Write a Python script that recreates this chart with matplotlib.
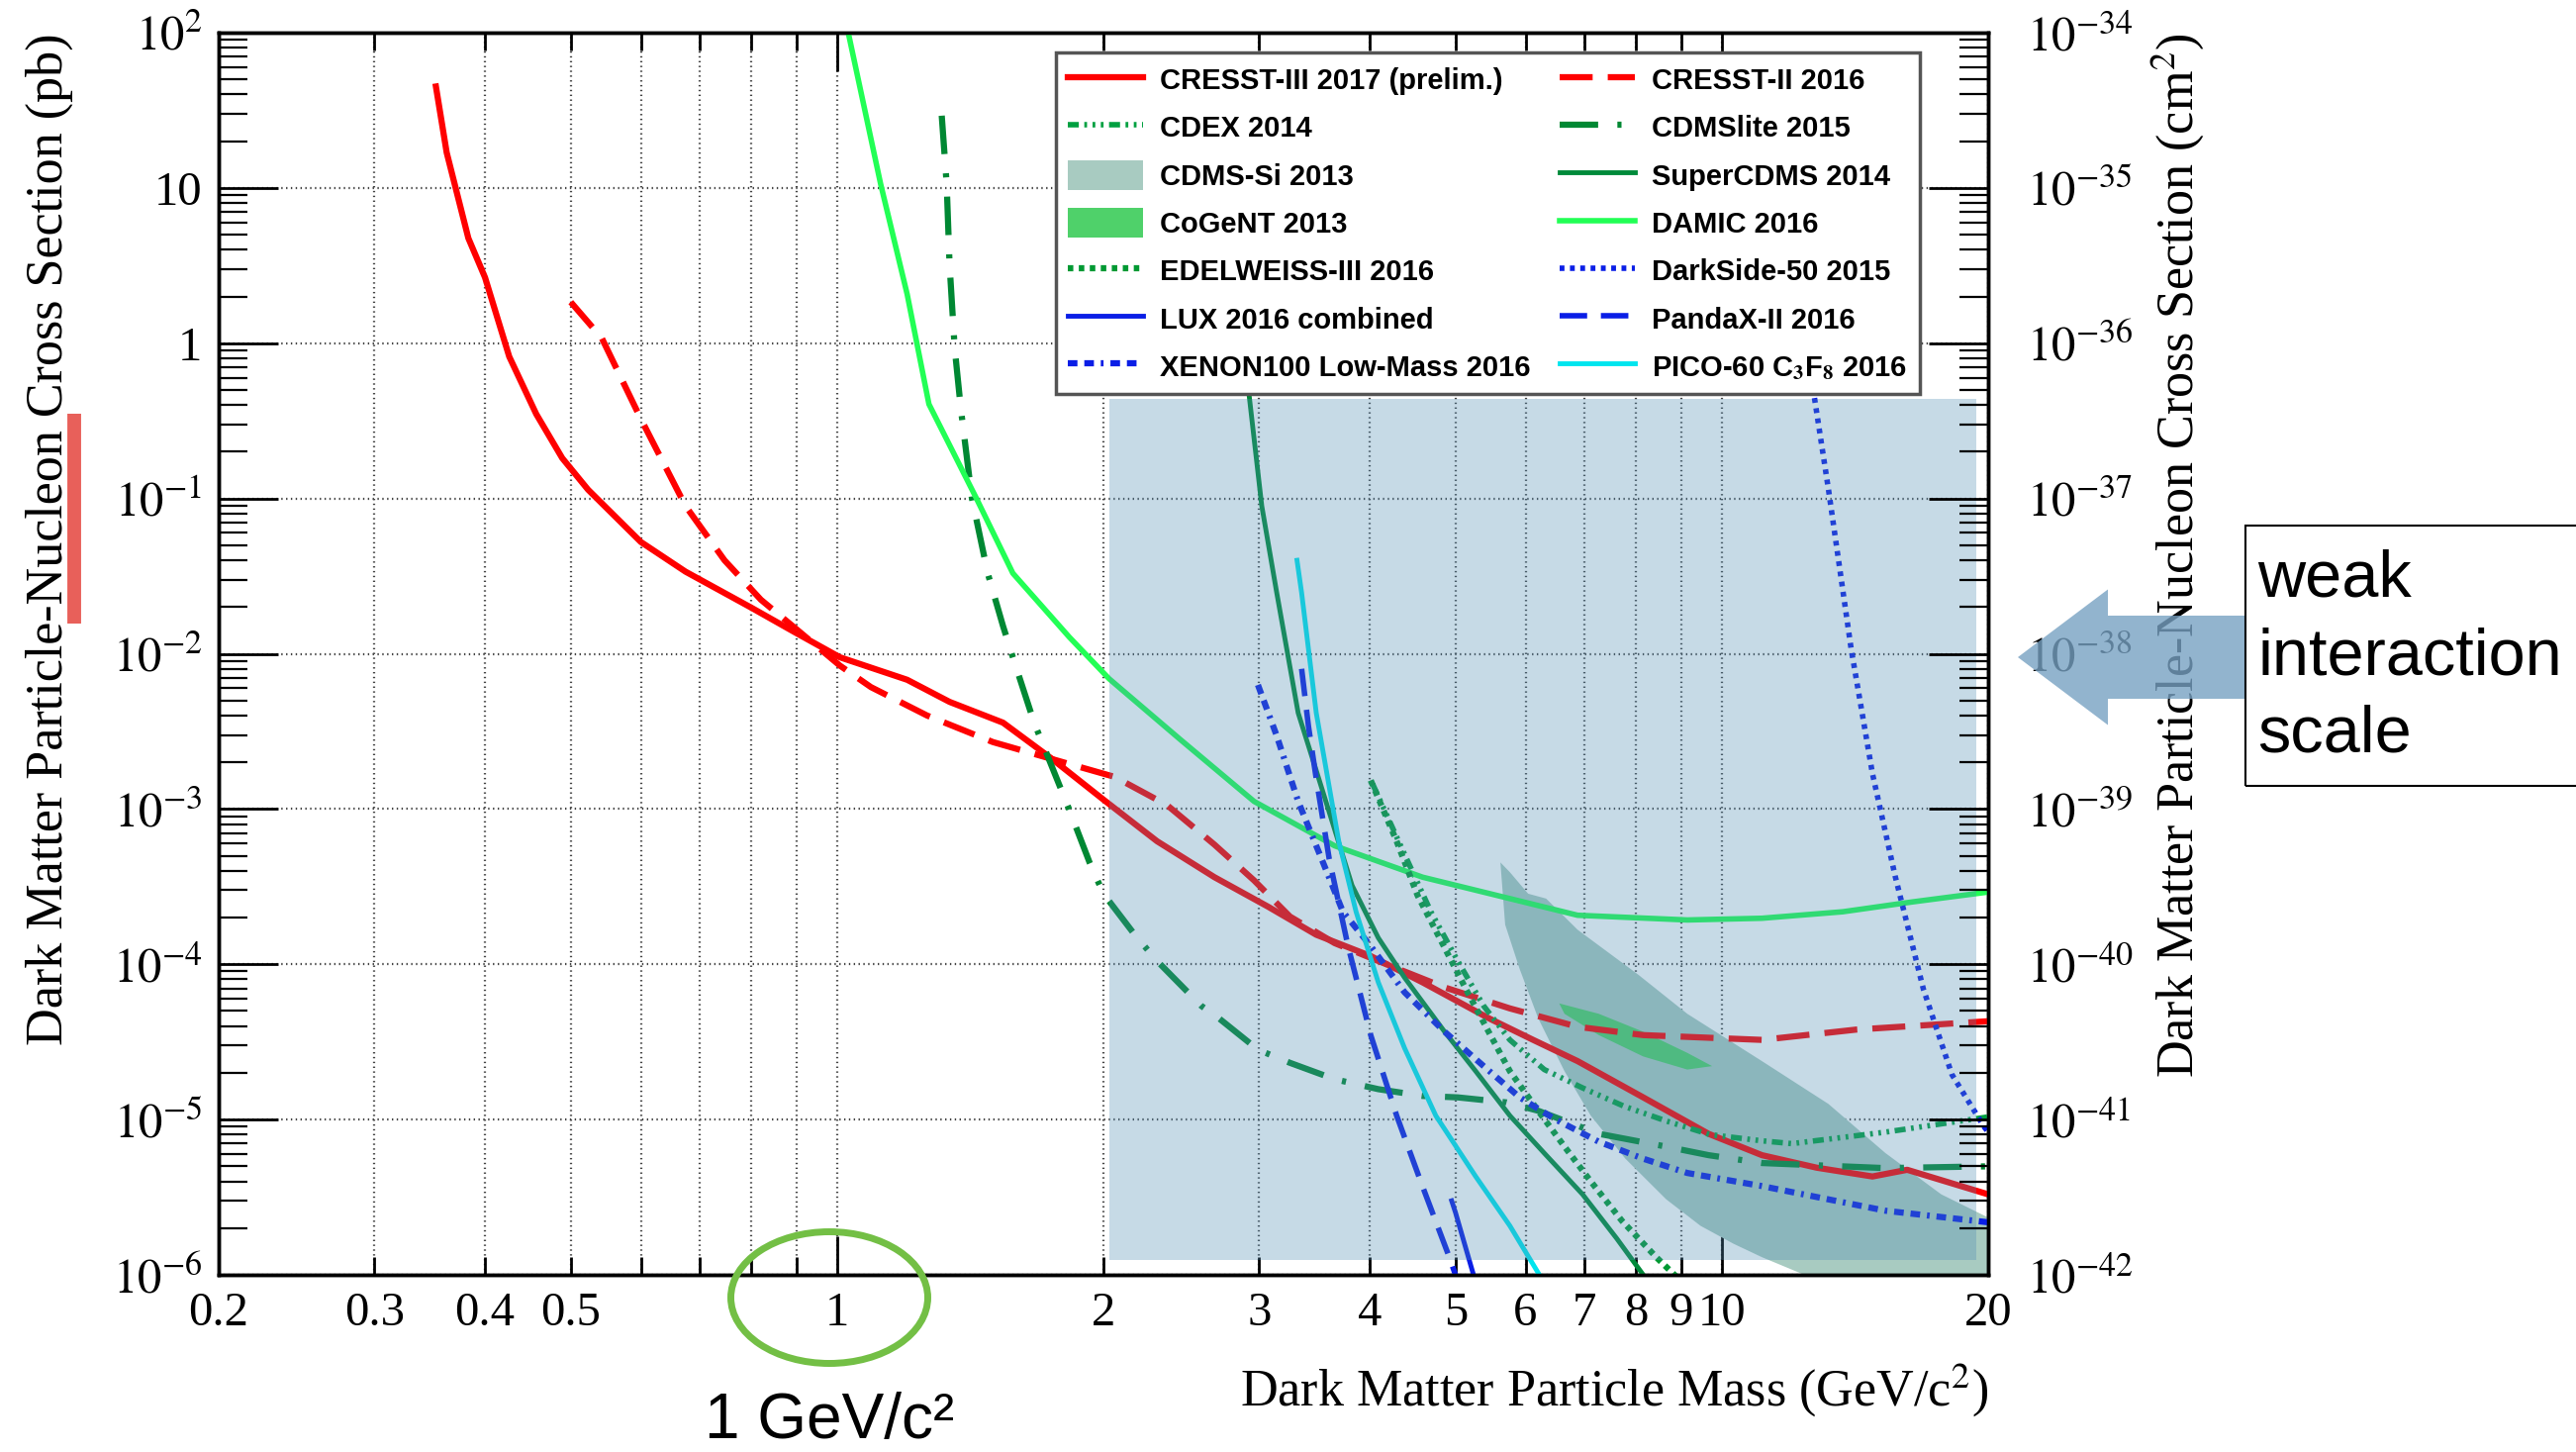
import numpy as np
import matplotlib
matplotlib.use('Agg')
import matplotlib.pyplot as plt
from matplotlib.patches import Rectangle, Ellipse, Patch, FancyArrow
from matplotlib.lines import Line2D
from matplotlib.transforms import IdentityTransform
from matplotlib.ticker import FixedLocator, LogLocator, FuncFormatter, NullFormatter

plt.rcParams['font.family'] = ['Liberation Serif', 'DejaVu Serif']
plt.rcParams['mathtext.fontset'] = 'stix'
plt.rcParams['lines.scale_dashes'] = False

# ---- exclusion limits: mass (GeV/c^2) vs cross section (pb) ----
cresst3_mass = [0.352, 0.362, 0.383, 0.40, 0.426, 0.457, 0.489, 0.523, 0.60, 0.674, 0.80, 0.897,
                1.007, 1.2, 1.34, 1.54, 1.75, 2.0, 2.30, 2.67, 3.07, 3.48, 4.01, 4.59, 5.45, 6.12,
                6.87, 8.15, 9.66, 11.1, 12.8, 14.8, 16.2, 20]
cresst3_xs = [45, 16.9, 4.75, 2.65, 0.82, 0.35, 0.182, 0.114, 0.0525, 0.0338, 0.0198, 0.0137,
              0.0095, 0.0068, 0.0049, 0.0036, 0.0021, 0.00115, 6.2e-4, 3.64e-4, 2.35e-4, 1.55e-4,
              1.13e-4, 7.65e-5, 4.5e-5, 3.26e-5, 2.38e-5, 1.39e-5, 8.1e-6, 5.9e-6, 4.9e-6, 4.3e-6,
              4.75e-6, 3.3e-6]

cresst2_mass = [0.50, 0.542, 0.60, 0.674, 0.746, 0.82, 0.909, 1.007, 1.092, 1.264, 1.50, 1.70, 1.83,
                2.06, 2.36, 2.67, 2.96, 3.25, 3.65, 4.09, 4.86, 5.76, 6.87, 8.15, 11.1, 14.2, 20]
cresst2_xs = [1.84, 1.08, 0.326, 0.0895, 0.040, 0.0223, 0.0137, 0.0084, 0.0061, 0.0040, 0.0027,
              0.0022, 0.00195, 0.00161, 0.00106, 5.9e-4, 3.47e-4, 2.03e-4, 1.37e-4, 1.05e-4, 7.1e-5,
              5.2e-5, 3.96e-5, 3.5e-5, 3.26e-5, 3.8e-5, 4.3e-5]

cdex_mass = [4.03, 4.38, 4.69, 5.03, 5.38, 5.76, 6.3, 6.96, 7.75, 8.65, 9.7, 11.1, 12.0, 15.3, 20]
cdex_xs = [1.45e-3, 5.1e-4, 2.18e-4, 1.05e-4, 5.4e-5, 3.26e-5, 2.1e-5, 1.6e-5, 1.22e-5, 9.8e-6,
           8.0e-6, 7.3e-6, 7.0e-6, 8.3e-6, 1.04e-5]

cdmslite_mass = [1.313, 1.33, 1.34, 1.358, 1.38, 1.42, 1.48, 1.54, 1.58, 1.67, 1.83, 1.93, 2.0, 2.17,
                 2.30, 2.58, 2.70, 2.99, 3.25, 3.65, 4.09, 4.59, 5.03, 5.71, 6.20, 7.26, 8.65, 9.66,
                 11.1, 15.3, 20]
cdmslite_xs = [29.2, 10.6, 3.22, 0.93, 0.378, 0.101, 0.033, 0.0151, 0.0095, 0.0036, 9.9e-4, 4.5e-4,
               2.85e-4, 1.55e-4, 1.05e-4, 5.4e-5, 4.5e-5, 2.82e-5, 2.32e-5, 1.82e-5, 1.57e-5,
               1.42e-5, 1.39e-5, 1.29e-5, 1.14e-5, 8.1e-6, 6.7e-6, 5.9e-6, 5.25e-6, 4.87e-6, 5.0e-6]

supercdms_mass = [2.86, 2.92, 3.02, 3.14, 3.32, 3.48, 3.82, 4.09, 4.38, 4.86, 5.27, 5.76, 6.33, 6.96,
                  7.61, 8.15, 8.5]
supercdms_xs = [2.0, 0.48, 0.0895, 0.0247, 4.16e-3, 1.77e-3, 3.22e-4, 1.48e-4, 8.2e-5, 3.68e-5,
                2.05e-5, 1.06e-5, 5.9e-6, 3.3e-6, 1.71e-6, 1.0e-6, 7e-7]

damic_mass = [1.02, 1.03, 1.12, 1.20, 1.27, 1.436, 1.58, 1.83, 2.03, 2.44, 2.96, 3.65, 4.59, 5.76,
              6.87, 9.14, 11.1, 13.7, 16.4, 20]
damic_xs = [130, 98.6, 10.6, 2.07, 0.405, 0.101, 0.033, 0.0128, 6.9e-3, 2.82e-3, 1.12e-3, 5.8e-4,
            3.64e-4, 2.65e-4, 2.07e-4, 1.93e-4, 1.98e-4, 2.18e-4, 2.52e-4, 2.92e-4]

edelweiss_mass = [4.01, 4.29, 4.53, 4.86, 5.16, 5.45, 5.76, 6.20, 6.64, 7.11, 7.71, 8.43, 8.84, 9.2]
edelweiss_xs = [1.53e-3, 6.2e-4, 2.78e-4, 1.28e-4, 6.6e-5, 3.68e-5, 2.05e-5, 1.14e-5, 6.7e-6, 4.0e-6,
                2.23e-6, 1.3e-6, 1.0e-6, 8e-7]

darkside_mass = [12.5, 12.7, 13.2, 14.0, 14.8, 15.7, 16.9, 18.2, 19.8, 20.5]
darkside_xs = [1.5, 0.48, 0.114, 0.0108, 1.69e-3, 3.7e-4, 6.9e-5, 1.95e-5, 8.95e-6, 7e-6]

lux_mass = [4.95, 5.0, 5.24, 5.4]
lux_xs = [3.0e-6, 2.52e-6, 1.0e-6, 6e-7]

pandax_mass = [3.35, 3.41, 3.48, 3.60, 3.78, 4.01, 4.29, 4.59, 4.92, 5.0]
pandax_xs = [8.0e-3, 3.42e-3, 1.57e-3, 4.75e-4, 1.31e-4, 3.5e-5, 1.06e-5, 3.7e-6, 1.3e-6, 1.0e-6]

xenon_mass = [2.99, 3.14, 3.32, 3.53, 3.73, 4.01, 4.38, 4.86, 5.38, 5.91, 6.47, 7.26, 8.15, 9.14,
              11.1, 15.3, 20]
xenon_xs = [6.3e-3, 2.96e-3, 1.12e-3, 4.75e-4, 2.18e-4, 1.31e-4, 6.6e-5, 3.68e-5, 2.21e-5, 1.39e-5,
            1.01e-5, 7.2e-6, 5.6e-6, 4.53e-6, 3.73e-6, 2.59e-6, 2.18e-6]

pico_mass = [3.31, 3.35, 3.48, 3.69, 3.86, 4.09, 4.38, 4.75, 5.27, 5.76, 6.22]
pico_xs = [0.040, 0.0247, 4.16e-3, 6.2e-4, 2.18e-4, 7.65e-5, 2.88e-5, 1.06e-5, 4.3e-6, 2.07e-6, 1.0e-6]

# allowed regions (closed contours)
cdmssi_mass = [5.62, 5.76, 6.04, 6.33, 6.87, 8.04, 9.14, 11.1, 13.2, 15.3, 17.7, 20.0, 20.5, 20.5,
               13.5, 12.4, 11.1, 10.3, 9.46, 8.65, 7.78, 7.11, 6.64, 6.20, 5.91, 5.69]
cdmssi_xs = [4.53e-4, 3.92e-4, 2.85e-4, 2.65e-4, 1.67e-4, 8.6e-5, 4.8e-5, 2.38e-5, 1.26e-5, 6.1e-6,
             3.3e-6, 2.34e-6, 2.2e-6, 6e-7, 6e-7, 1.0e-6, 1.3e-6, 1.59e-6, 2.07e-6, 3.07e-6, 5.6e-6,
             1.06e-5, 2.05e-5, 4.5e-5, 9.3e-5, 1.8e-4]

cogent_mass = [6.55, 7.26, 8.15, 9.14, 9.75, 9.14, 8.15, 7.26, 6.64]
cogent_xs = [5.6e-5, 4.8e-5, 3.68e-5, 2.69e-5, 2.21e-5, 2.1e-5, 2.55e-5, 3.5e-5, 4.8e-5]

# highlighted parameter region (mass range, cross-section range)
box_mass = [2.03, 19.4]
box_xs = [1.25e-6, 0.436]

x_major = [1, 10]
x_minor = [0.2, 0.3, 0.4, 0.5, 0.6, 0.7, 0.8, 0.9, 2, 3, 4, 5, 6, 7, 8, 9, 20]
x_unlabeled = [0.6, 0.7, 0.8, 0.9]

fig = plt.figure(figsize=(26.03, 14.67), dpi=100)
ax = fig.add_axes([0.0849, 0.1220, 0.6869, 0.8555])
ax.set_xscale('log')
ax.set_yscale('log')
ax.set_xlim(0.2, 20)
ax.set_ylim(1e-6, 1e2)

RED = '#ff0000'
BLUE = '#0a1ee6'

ax.fill(cdmssi_mass, cdmssi_xs, color='#a8cbc1', lw=0, zorder=1.5)
ax.fill(cogent_mass, cogent_xs, color='#4fd16a', lw=0, zorder=1.6)

h_cresst3, = ax.plot(cresst3_mass, cresst3_xs, color=RED, lw=4.5, zorder=3)
h_cresst2, = ax.plot(cresst2_mass, cresst2_xs, color=RED, lw=4.5, dashes=(24, 11), zorder=3)
h_cdex, = ax.plot(cdex_mass, cdex_xs, color='#00a040', lw=4,
                  dashes=(8, 4, 2, 4, 2, 4, 2, 4), zorder=3)
h_cdmslite, = ax.plot(cdmslite_mass, cdmslite_xs, color='#008833', lw=4.5,
                      dashes=(28, 14, 3, 14), zorder=3)
h_supercdms, = ax.plot(supercdms_mass, supercdms_xs, color='#008a3a', lw=3.5, zorder=3)
h_damic, = ax.plot(damic_mass, damic_xs, color='#22ff55', lw=4, zorder=3)
h_edelweiss, = ax.plot(edelweiss_mass, edelweiss_xs, color='#009933', lw=4.5, dashes=(4, 4), zorder=3)
h_darkside, = ax.plot(darkside_mass, darkside_xs, color=BLUE, lw=4, dashes=(3.5, 4), zorder=3)
h_lux, = ax.plot(lux_mass, lux_xs, color=BLUE, lw=3.5, zorder=3)
h_pandax, = ax.plot(pandax_mass, pandax_xs, color=BLUE, lw=4, dashes=(20, 10), zorder=3)
h_xenon, = ax.plot(xenon_mass, xenon_xs, color=BLUE, lw=4.5, dashes=(7, 5, 7, 5, 2, 5), zorder=3)
h_pico, = ax.plot(pico_mass, pico_xs, color='#00e5ee', lw=3.5, zorder=3)

# translucent highlight
ax.add_patch(Rectangle((box_mass[0], box_xs[0]), box_mass[1] - box_mass[0], box_xs[1] - box_xs[0],
                       facecolor='#4f8cb3', alpha=0.32, edgecolor='none', zorder=4))

# axes styling
for s in ax.spines.values():
    s.set_linewidth(2.5)
ax.xaxis.set_major_locator(FixedLocator(x_major))
ax.xaxis.set_minor_locator(FixedLocator(x_minor))
ax.xaxis.set_major_formatter(FuncFormatter(lambda v, p: '%g' % v))
ax.xaxis.set_minor_formatter(FuncFormatter(
    lambda v, p: '' if round(v, 3) in x_unlabeled else '%g' % v))


def dec_label(v, p):
    e = int(round(np.log10(v)))
    if e == 0:
        return '1'
    if e == 1:
        return '10'
    return r'$10^{%d}$' % e


ax.yaxis.set_major_locator(LogLocator(base=10, numticks=20))
ax.yaxis.set_minor_locator(LogLocator(base=10, subs=np.arange(2, 10), numticks=20))
ax.yaxis.set_major_formatter(FuncFormatter(dec_label))
ax.yaxis.set_minor_formatter(NullFormatter())

ax.tick_params(axis='x', which='major', direction='in', length=28, width=2, top=True, bottom=True,
               labelsize=35, pad=12)
ax.tick_params(axis='x', which='minor', direction='in', length=13, width=2, top=True, bottom=True,
               labelsize=35, pad=12)
ax.tick_params(axis='y', which='major', direction='in', length=43, width=2, left=True, right=False,
               labelsize=35, pad=12)
ax.tick_params(axis='y', which='minor', direction='in', length=21, width=1.6, left=True, right=False)

ax.grid(True, which='both', axis='x', color='#444444', ls=(0, (1, 2.5)), lw=1.6, zorder=1)
ax.grid(True, which='major', axis='y', color='#444444', ls=(0, (1, 2.5)), lw=1.6, zorder=1)
ax.set_axisbelow(True)

ax.set_xlabel('Dark Matter Particle Mass (GeV/c$^2$)', fontsize=37.5, loc='right')
ax.xaxis.set_label_coords(1.0, -0.070)
ax.set_ylabel('Dark Matter Particle-Nucleon Cross Section (pb)', fontsize=37.5, loc='top')
ax.yaxis.set_label_coords(-0.082, 1.0)

ax2 = ax.twinx()
ax2.set_yscale('log')
ax2.set_ylim(1e-42, 1e-34)
ax2.yaxis.set_major_locator(LogLocator(base=10, numticks=20))
ax2.yaxis.set_minor_locator(LogLocator(base=10, subs=np.arange(2, 10), numticks=20))
ax2.yaxis.set_major_formatter(FuncFormatter(lambda v, p: r'$10^{%d}$' % int(round(np.log10(v)))))
ax2.yaxis.set_minor_formatter(NullFormatter())
ax2.tick_params(axis='y', which='major', direction='in', length=43, width=2, labelsize=35, pad=28)
ax2.tick_params(axis='y', which='minor', direction='in', length=21, width=1.6)
ax2.set_ylabel(r'Dark Matter Particle-Nucleon Cross Section (cm$^2$)', fontsize=37.5, loc='top')
ax2.yaxis.set_label_coords(1.091, 1.0)
for s in ax2.spines.values():
    s.set_linewidth(2.5)

# legend
h_cdmssi = Patch(facecolor='#a8cbc1', edgecolor='none')
h_cogent = Patch(facecolor='#4fd16a', edgecolor='none')
handles = [h_cresst3, h_cdex, h_cdmssi, h_cogent, h_edelweiss, h_lux, h_xenon,
           h_cresst2, h_cdmslite, h_supercdms, h_damic, h_darkside, h_pandax, h_pico]
labels = ['CRESST-III 2017 (prelim.)', 'CDEX 2014', 'CDMS-Si 2013', 'CoGeNT 2013',
          'EDELWEISS-III 2016', 'LUX 2016 combined', 'XENON100 Low-Mass 2016',
          'CRESST-II 2016', 'CDMSlite 2015', 'SuperCDMS 2014', 'DAMIC 2016',
          'DarkSide-50 2015', 'PandaX-II 2016', r'PICO-60 C$_\mathbf{3}$F$_\mathbf{8}$ 2016']
leg = ax.legend(handles, labels, ncol=2, loc='upper left', bbox_to_anchor=(0.473, 0.984),
                prop={'family': ['Liberation Sans Narrow', 'Liberation Sans'], 'weight': 'bold',
                      'size': 21},
                frameon=True, fancybox=False, edgecolor='#555555', framealpha=1,
                handlelength=2.6, handleheight=1.2, handletextpad=0.6, columnspacing=1.0,
                labelspacing=0.6, borderpad=0.42, borderaxespad=0)
leg.get_frame().set_linewidth(2.5)
leg.set_zorder(10)

# annotations (figure pixel coordinates)
H = 1467
fig.add_artist(Line2D([74.5, 74.5], [H - 418, H - 630], transform=IdentityTransform(),
                      color='#e8605a', lw=10, solid_capstyle='butt'))
fig.add_artist(Ellipse((838, H - 1311), 199, 133, transform=IdentityTransform(), fill=False,
                       edgecolor='#73bf45', lw=5))
fig.text(838 / 2603, 1 - 1436 / H, '1 GeV/c²', ha='center', va='center', fontsize=46,
         family='Liberation Sans')
fig.add_artist(FancyArrow(2269, H - 664, -230, 0, width=84, head_width=137, head_length=91,
                          length_includes_head=True, transform=IdentityTransform(),
                          facecolor='#77a1c2', edgecolor='none', alpha=0.8))
fig.add_artist(Rectangle((2269, H - 794), 400, 263, transform=IdentityTransform(), fill=False,
                         edgecolor='black', lw=1.5))
fig.text(2281 / 2603, 1 - 664 / H, 'weak\ninteraction\nscale', ha='left', va='center',
         fontsize=48, family='Liberation Sans', linespacing=1.35)

fig.savefig('out.png', dpi=100)
